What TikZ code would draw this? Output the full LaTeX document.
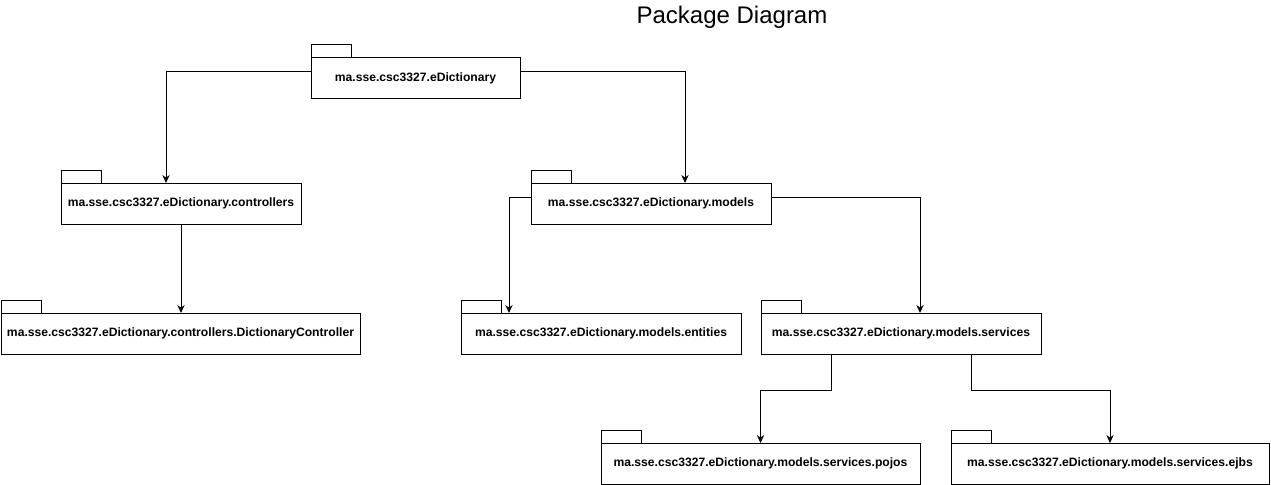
\documentclass[tikz,border=0pt]{standalone}
\usepackage{fontspec}
\setmainfont{Liberation Sans}
\usetikzlibrary{arrows.meta,calc}

\begin{document}
\begin{tikzpicture}[x=0.75pt,y=-0.75pt,
  line width=0.75pt,
  pkg/.style={draw, rectangle, inner sep=0pt, outer sep=0pt,
    minimum height=30.75pt, anchor=north west,
    font=\fontsize{9.1}{11}\selectfont\bfseries},
  arr/.style={-{Stealth[length=6pt,width=5.5pt]}},
  title/.style={font=\fontsize{18}{22}\selectfont}]

\useasboundingbox (0,0) rectangle (1271,485);

% package: name, x, y of body corner, width, label; tab sits on top-left
\newcommand\pkgbox[5]{%
  \node[pkg, minimum width=#4*0.75pt] (#1) at (#2,#3) {#5};
  \draw (#1.north west) rectangle ($(#1.north west)+(40,-13)$);
}

\node[title] (ttl) at (732,17) {Package Diagram};

\pkgbox{root}{311}{58}{209}{ma.sse.csc3327.eDictionary}
\pkgbox{ctrl}{61}{183}{240}{ma.sse.csc3327.eDictionary.controllers}
\pkgbox{models}{531}{183}{240}{ma.sse.csc3327.eDictionary.models}
\pkgbox{dict}{1}{313}{359}{ma.sse.csc3327.eDictionary.controllers.DictionaryController}
\pkgbox{ent}{461}{313}{280}{ma.sse.csc3327.eDictionary.models.entities}
\pkgbox{svc}{761}{313}{280}{ma.sse.csc3327.eDictionary.models.services}
\pkgbox{pojos}{601}{443}{319}{ma.sse.csc3327.eDictionary.models.services.pojos}
\pkgbox{ejbs}{951}{443}{318}{ma.sse.csc3327.eDictionary.models.services.ejbs}

% dependency connectors
\draw[arr] ($(root.west)+(0,-6.5)$) -| ($(ctrl.north)+(-15,0)$);
\draw[arr] ($(root.east)+(0,-6.5)$) -| ($(models.north)+(34,0)$);
\draw[arr] (ctrl.south) -- (ctrl.south |- dict.north);
\draw[arr] ($(models.west)+(0,-6.5)$) -| ($(ent.north)+(-92,0)$);
\draw[arr] ($(models.east)+(0,-6.5)$) -| ($(svc.north)+(19,0)$);
\draw[arr] ($(svc.south)+(-70,0)$) -- ++(0,36) -| (pojos.north);
\draw[arr] ($(svc.south)+(70,0)$) -- ++(0,36) -| (ejbs.north);

\end{tikzpicture}
\end{document}
